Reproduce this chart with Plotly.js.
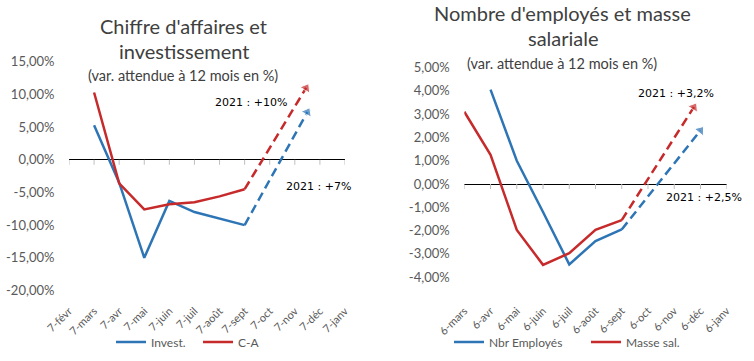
<!DOCTYPE html>
<html>
<head>
<meta charset="utf-8">
<script src="https://cdn.plot.ly/plotly-3.0.1.min.js"></script>
<style>html,body{margin:0;padding:0;background:#fff}#chart{width:754px;height:361px}</style>
</head>
<body>
<div id="chart"></div>
<script>
// ---- Left chart data ----
const leftCats = ['7-févr','7-mars','7-avr','7-mai','7-juin','7-juil','7-août','7-sept','7-oct','7-nov','7-déc','7-janv'];
const investVals = [null, 5.3, -3.5, -15.0, -6.3, -8.0, -9.0, -10.0];
const caVals = [null, 10.3, -3.6, -7.6, -6.8, -6.5, -5.6, -4.5];
const investProjX = [7, 9.5];
const investProjY = [-10.0, 7.3];
const caProjX = [7, 9.45];
const caProjY = [-4.5, 11.0];
const leftTicks = [15, 10, 5, 0, -5, -10, -15, -20];

// ---- Right chart data ----
const rightCats = ['6-mars','6-avr','6-mai','6-juin','6-juil','6-août','6-sept','6-oct','6-nov','6-déc','6-janv'];
const empVals = [null, 4.05, 1.0, -1.2, -3.45, -2.45, -1.95];
const masseVals = [3.1, 1.25, -1.97, -3.47, -2.97, -1.97, -1.55];
const empProjX = [6, 9.0];
const empProjY = [-1.95, 2.3];
const masseProjX = [6, 8.75];
const masseProjY = [-1.55, 3.3];
const rightTicks = [5, 4, 3, 2, 1, 0, -1, -2, -3, -4];

const BLUE = '#2e75b6';
const RED = '#c62a2a';
const FONT = 'Lato, "Open Sans", sans-serif';
const fmt = v => v.toFixed(2).replace('.', ',') + '%';
const idx = arr => arr.map((_, i) => i);

function solid(xa, ya, y, color, name, legend) {
  return {x: idx(y), y: y, xaxis: xa, yaxis: ya, type: 'scatter', mode: 'lines', name: name,
    legend: legend, line: {color: color, width: 2.5}, cliponaxis: false, connectgaps: false};
}
function proj(xa, ya, x, y, color) {
  return {x: x, y: y, xaxis: xa, yaxis: ya, type: 'scatter', mode: 'lines+markers', showlegend: false,
    line: {color: color, width: 2.5, dash: '9px,5px'}, cliponaxis: false, hoverinfo: 'skip',
    marker: {symbol: 'triangle-up', angleref: 'previous', size: [0, 10], color: color}};
}

const data = [
  solid('x', 'y', investVals, BLUE, 'Invest.', 'legend'),
  solid('x', 'y', caVals, RED, 'C-A', 'legend'),
  proj('x', 'y', caProjX, caProjY, RED),
  proj('x', 'y', investProjX, investProjY, BLUE),
  solid('x2', 'y2', empVals, BLUE, 'Nbr Employés', 'legend2'),
  solid('x2', 'y2', masseVals, RED, 'Masse sal.', 'legend2'),
  proj('x2', 'y2', masseProjX, masseProjY, RED),
  proj('x2', 'y2', empProjX, empProjY, BLUE)
];

const tickShapes = [];
leftCats.forEach((c, i) => tickShapes.push({type: 'line', xref: 'x', yref: 'y', ysizemode: 'pixel', yanchor: 0,
  x0: i, x1: i, y0: 0, y1: -5, line: {color: '#bfbfbf', width: 1}}));
rightCats.forEach((c, i) => tickShapes.push({type: 'line', xref: 'x2', yref: 'y2', ysizemode: 'pixel', yanchor: 0,
  x0: i, x1: i, y0: 0, y1: -5, line: {color: '#bfbfbf', width: 1}}));

const W = 754, H = 361;
const px = v => v / W, py = v => 1 - v / H;

function yax(domain, range, ticks, anchor) {
  return {domain: domain, range: range, anchor: anchor, tickvals: ticks, ticktext: ticks.map(fmt),
    showgrid: false, showline: false, ticks: 'outside', ticklen: 11, tickcolor: 'rgba(0,0,0,0)',
    zeroline: true, zerolinecolor: '#000000', zerolinewidth: 1,
    tickfont: {family: FONT, size: 13, color: '#595959'}, fixedrange: true};
}
function xax(domain, cats, anchor, tlen) {
  return {domain: domain, range: [0, cats.length - 1], anchor: anchor, tickvals: idx(cats), ticktext: cats,
    tickangle: -45, showgrid: false, showline: false, zeroline: false, ticks: 'outside', ticklen: tlen,
    tickcolor: 'rgba(0,0,0,0)', tickfont: {family: FONT, size: 11, color: '#595959'}, fixedrange: true};
}

function ann(text, x, y, size, color, family) {
  return {text: text, xref: 'paper', yref: 'paper', x: px(x), y: py(y), xanchor: 'center', yanchor: 'middle',
    showarrow: false, font: {family: family || FONT, size: size, color: color}};
}

const layout = {
  width: W, height: H, margin: {l: 0, r: 0, t: 0, b: 0, pad: 0, autoexpand: false},
  paper_bgcolor: '#ffffff', plot_bgcolor: '#ffffff',
  showlegend: true,
  xaxis: xax([px(69), px(345)], leftCats, 'y', 9),
  yaxis: yax([py(290.4), py(61.85)], [-20, 15], leftTicks, 'x'),
  xaxis2: xax([px(464.3), px(726.7)], rightCats, 'y2', 22),
  yaxis2: yax([py(277.2), py(67.5)], [-4, 5], rightTicks, 'x2'),
  legend: {orientation: 'h', x: px(111), y: py(342), xanchor: 'left', yanchor: 'middle',
    entrywidth: 42, entrywidthmode: 'pixels', font: {family: FONT, size: 12, color: '#595959'},
    bgcolor: 'rgba(0,0,0,0)'},
  legend2: {orientation: 'h', x: px(449), y: py(342), xanchor: 'left', yanchor: 'middle',
    entrywidth: 92, entrywidthmode: 'pixels', font: {family: FONT, size: 12, color: '#595959'},
    bgcolor: 'rgba(0,0,0,0)'},
  shapes: tickShapes,
  annotations: [
    ann("Chiffre d'affaires et", 183.5, 26, 20, '#404040'),
    ann('investissement', 183.5, 51.5, 20, '#404040'),
    ann('(var. attendue à 12 mois en %)', 183, 75, 14.5, '#404040'),
    ann("Nombre d'employés et masse", 562, 13, 20, '#404040'),
    ann('salariale', 563, 38, 20, '#404040'),
    ann('(var. attendue à 12 mois en %)', 562, 63, 14.5, '#404040'),
    ann('2021 : +10%', 251, 103, 11, '#000000', 'DejaVu Sans'),
    ann('2021 : +7%', 318, 186, 11, '#000000', 'DejaVu Sans'),
    ann('2021 : +3,2%', 676, 94, 11, '#000000', 'DejaVu Sans'),
    ann('2021 : +2,5%', 704, 197, 11, '#000000', 'DejaVu Sans')
  ]
};

Plotly.newPlot('chart', data, layout, {staticPlot: true, displayModeBar: false});
</script>
</body>
</html>
